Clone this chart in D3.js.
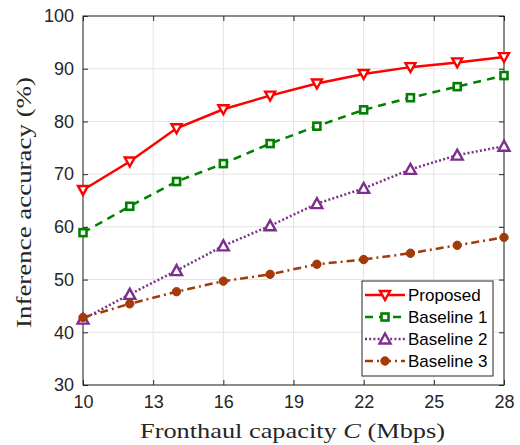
<!DOCTYPE html>
<html><head><meta charset="utf-8">
<script src="https://cdn.jsdelivr.net/npm/d3@7"></script>
<style>body{margin:0;background:#fff}svg{display:block}</style>
</head><body>
<script>
const capacity = [10,12,14,16,18,20,22,24,26,28];
const proposed  = [67.0,72.4,78.7,82.3,84.9,87.2,89.0,90.3,91.2,92.2];
const baseline1 = [58.9,63.9,68.6,72.0,75.8,79.1,82.2,84.5,86.6,88.7];
const baseline2 = [42.5,47.2,51.7,56.4,60.2,64.4,67.3,70.9,73.6,75.3];
const baseline3 = [42.8,45.4,47.7,49.7,51.0,52.9,53.8,55.0,56.5,58.0];
const xTicks = [10,13,16,19,22,25,28];
const yTicks = [30,40,50,60,70,80,90,100];
const seriesNames = ["Proposed","Baseline 1","Baseline 2","Baseline 3"];

const series = [
  {name:seriesNames[0], values:proposed,  color:"#ff0000", dash:null, marker:"tridown"},
  {name:seriesNames[1], values:baseline1, color:"#008000", dash:"8,6", marker:"square"},
  {name:seriesNames[2], values:baseline2, color:"#7e2f8e", dash:"2,2.2", marker:"triup"},
  {name:seriesNames[3], values:baseline3, color:"#a33a08", dash:"8,4,2,4", marker:"circle"}
];

const W=520,H=445;
const L=83,R=504,T=16,B=385;
const svg=d3.select("body").append("svg").attr("width",W).attr("height",H);
const x=d3.scaleLinear().domain([10,28]).range([L,R]);
const y=d3.scaleLinear().domain([30,100]).range([B,T]);

// grid
const g=svg.append("g");
g.selectAll(".gx").data(xTicks).enter().append("line")
  .attr("x1",d=>x(d)).attr("x2",d=>x(d)).attr("y1",T).attr("y2",B)
  .attr("stroke","#e3e3e3").attr("stroke-width",1);
g.selectAll(".gy").data(yTicks).enter().append("line")
  .attr("y1",d=>y(d)).attr("y2",d=>y(d)).attr("x1",L).attr("x2",R)
  .attr("stroke","#e3e3e3").attr("stroke-width",1);

// axes
const tickStyle = sel=>{
  sel.select(".domain").remove();
  sel.selectAll("line").attr("stroke","#262626").attr("stroke-width",1);
  sel.selectAll("text").attr("fill","#262626").style("font-family","'Liberation Sans',Arial,sans-serif").style("font-size","18px");
};
svg.append("g").attr("transform",`translate(0,${B})`)
  .call(d3.axisBottom(x).tickValues(xTicks).tickSize(-5).tickPadding(10).tickFormat(d3.format("d")))
  .call(tickStyle);
svg.append("g").attr("transform",`translate(0,${T})`)
  .call(d3.axisTop(x).tickValues(xTicks).tickSize(-5).tickFormat(""))
  .call(tickStyle);
svg.append("g").attr("transform",`translate(${L},0)`)
  .call(d3.axisLeft(y).tickValues(yTicks).tickSize(-5).tickPadding(9).tickFormat(d3.format("d")))
  .call(tickStyle);
svg.append("g").attr("transform",`translate(${R},0)`)
  .call(d3.axisRight(y).tickValues(yTicks).tickSize(-5).tickFormat(""))
  .call(tickStyle);
svg.append("rect").attr("x",L).attr("y",T).attr("width",R-L).attr("height",B-T)
  .attr("fill","none").attr("stroke","#262626").attr("stroke-width",1);

// markers
function drawMarker(sel, type, color){
  if(type==="tridown"){
    sel.append("path").attr("d","M-5,-4L5,-4L0,5Z").attr("fill","#fff").attr("stroke",color).attr("stroke-width",2.4);
  } else if(type==="triup"){
    sel.append("path").attr("d","M-5.5,4.5L5.5,4.5L0,-5.5Z").attr("fill","#fff").attr("stroke",color).attr("stroke-width",2.4);
  } else if(type==="square"){
    sel.append("rect").attr("x",-3.5).attr("y",-3.5).attr("width",7).attr("height",7).attr("fill","#fff").attr("stroke",color).attr("stroke-width",2.6);
  } else {
    sel.append("circle").attr("r",4.2).attr("fill",color).attr("stroke",color).attr("stroke-width",1);
  }
}

const line=d3.line().x((d,i)=>x(capacity[i])).y(d=>y(d));
series.forEach(s=>{
  svg.append("path").attr("d",line(s.values)).attr("fill","none")
    .attr("stroke",s.color).attr("stroke-width",2.5)
    .attr("stroke-dasharray",s.dash);
  s.values.forEach((v,i)=>{
    const m=svg.append("g").attr("transform",`translate(${x(capacity[i])},${y(v)})`);
    drawMarker(m,s.marker,s.color);
  });
});

// legend
const lg=svg.append("g");
lg.append("rect").attr("x",362).attr("y",281).attr("width",131).attr("height",95)
  .attr("fill","#fff").attr("stroke","#262626").attr("stroke-width",1);
series.forEach((s,i)=>{
  const yy=295+i*22;
  lg.append("line").attr("x1",365).attr("x2",405).attr("y1",yy).attr("y2",yy)
    .attr("stroke",s.color).attr("stroke-width",2.5).attr("stroke-dasharray",s.dash);
  const m=lg.append("g").attr("transform",`translate(385,${yy})`);
  drawMarker(m,s.marker,s.color);
  lg.append("text").attr("x",408).attr("y",yy+6).text(s.name)
    .style("font-family","'Liberation Sans',Arial,sans-serif").style("font-size","17px").attr("fill","#000");
});

// axis labels
const xl=svg.append("text").attr("x",(L+R)/2 - 1).attr("y",438).attr("text-anchor","middle")
  .attr("textLength",305).attr("lengthAdjust","spacingAndGlyphs")
  .style("font-family","'Liberation Serif','Times New Roman',serif").style("font-size","22px").attr("fill","#262626");
xl.append("tspan").text("Fronthaul capacity ");
xl.append("tspan").style("font-style","italic").text("C");
xl.append("tspan").text(" (Mbps)");
svg.append("text").attr("transform",`translate(31,${(T+B)/2+2}) rotate(-90)`).attr("text-anchor","middle")
  .attr("textLength",251).attr("lengthAdjust","spacingAndGlyphs")
  .style("font-family","'Liberation Serif','Times New Roman',serif").style("font-size","22px").attr("fill","#262626")
  .text("Inference accuracy (%)");
</script>
</body></html>
